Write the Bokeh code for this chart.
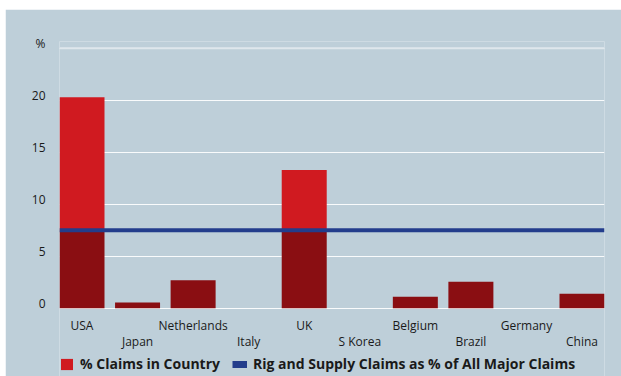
from bokeh.plotting import figure
from bokeh.layouts import column, row
from bokeh.models import (Range1d, FixedTicker, Span, Legend,
                          LegendItem, ColumnDataSource, Spacer)
from bokeh.core.properties import value
from bokeh.embed import file_html
from bokeh.resources import INLINE

# ---- data ----
countries = ["USA", "Japan", "Netherlands", "Italy", "UK", "S Korea",
             "Belgium", "Brazil", "Germany", "China"]
claims_pct = [20.3, 0.55, 2.7, 0.0, 13.3, 0.0, 1.1, 2.55, 0.0, 1.4]
rig_supply_pct = 7.5
y_ticks = [0, 5, 10, 15, 20, 25]
y_tick_labels = ["0", "5", "10", "15", "20", "%"]

# ---- style ----
BG = "#becfd9"
RED = "#d01a20"
DARK = "#8a0e12"
BLUE = "#233d8c"
TEXT = "#1a1a1a"
FONT = "Open Sans"
BAR_W = 0.81
LABEL_LIFT = 0.42   # tick labels sit just above their gridline

xs = list(range(len(countries)))
low_top = [min(v, rig_supply_pct) for v in claims_pct]
hi_x = [i for i, v in zip(xs, claims_pct) if v > rig_supply_pct]
hi_top = [v for v in claims_pct if v > rig_supply_pct]
label_offset = [17 if i % 2 == 0 else 33 for i in xs]   # staggered rows (px)

p = figure(frame_width=545, frame_height=335, output_backend="svg",
           toolbar_location=None,
           x_range=Range1d(-BAR_W / 2, len(countries) - 1 + BAR_W / 2),
           y_range=Range1d(-6.56, 25.65), x_axis_location=None)
p.background_fill_color = BG
p.border_fill_color = BG
p.outline_line_color = None
p.min_border_left = 54
p.min_border_right = 17
p.min_border_top = 32
p.min_border_bottom = 0

# y axis (labels lifted slightly above the gridlines)
label_pos = [t + LABEL_LIFT for t in y_ticks]
p.yaxis.ticker = FixedTicker(ticks=label_pos)
p.yaxis.major_label_overrides = {t: l for t, l in zip(label_pos, y_tick_labels)}
p.yaxis.axis_line_color = None
p.yaxis.major_tick_line_color = None
p.yaxis.major_tick_out = 0
p.yaxis.major_tick_in = 0
p.yaxis.minor_tick_line_color = None
p.yaxis.major_label_standoff = 14
p.yaxis.major_label_text_font = FONT
p.yaxis.major_label_text_font_size = "12px"
p.yaxis.major_label_text_color = TEXT

p.ygrid.ticker = FixedTicker(ticks=y_ticks)
p.ygrid.grid_line_color = "white"
p.ygrid.grid_line_alpha = 0.9
p.xgrid.visible = False
p.add_layout(Span(location=y_ticks[-1], dimension="width", line_color="#dfe7ec",
                  line_width=2, level="underlay"))

# bars
r_low = p.vbar(x="x", top="top", bottom=0, width=BAR_W,
               source=ColumnDataSource(dict(x=xs, top=low_top)),
               fill_color=DARK, line_color=None)
r_hi = p.vbar(x="x", top="top", bottom=rig_supply_pct, width=BAR_W,
              source=ColumnDataSource(dict(x=hi_x, top=hi_top)),
              fill_color=RED, line_color=None)

# rig & supply line
p.add_layout(Span(location=rig_supply_pct, dimension="width",
                  line_color=BLUE, line_width=4))
# legend proxy (draws nothing in the plot)
r_line = p.line(x=[float("nan")], y=[float("nan")], line_color=BLUE, line_width=7)

# staggered category labels
p.text(x="x", y=0, text="name", y_offset="off",
       source=ColumnDataSource(dict(x=xs, name=countries, off=label_offset)),
       text_font=value(FONT), text_font_size="12px", text_color=TEXT,
       text_align="center", text_baseline="middle")

legend = Legend(items=[
    LegendItem(label="% Claims in Country", renderers=[r_hi]),
    LegendItem(label="Rig and Supply Claims as % of All Major Claims", renderers=[r_line]),
], orientation="horizontal", location=(0, 3))
legend.padding = 0
legend.margin = 0
legend.spacing = 12
legend.label_standoff = 6
legend.glyph_width = 15
legend.glyph_height = 14
legend.label_height = 14
legend.background_fill_alpha = 0
legend.border_line_color = None
legend.label_text_font = FONT
legend.label_text_font_style = "bold"
legend.label_text_font_size = "14px"
legend.label_text_color = TEXT
p.add_layout(legend, "center")

page = column(Spacer(height=9), row(Spacer(width=5), p))
open("out.html", "w").write(file_html(page, INLINE))
